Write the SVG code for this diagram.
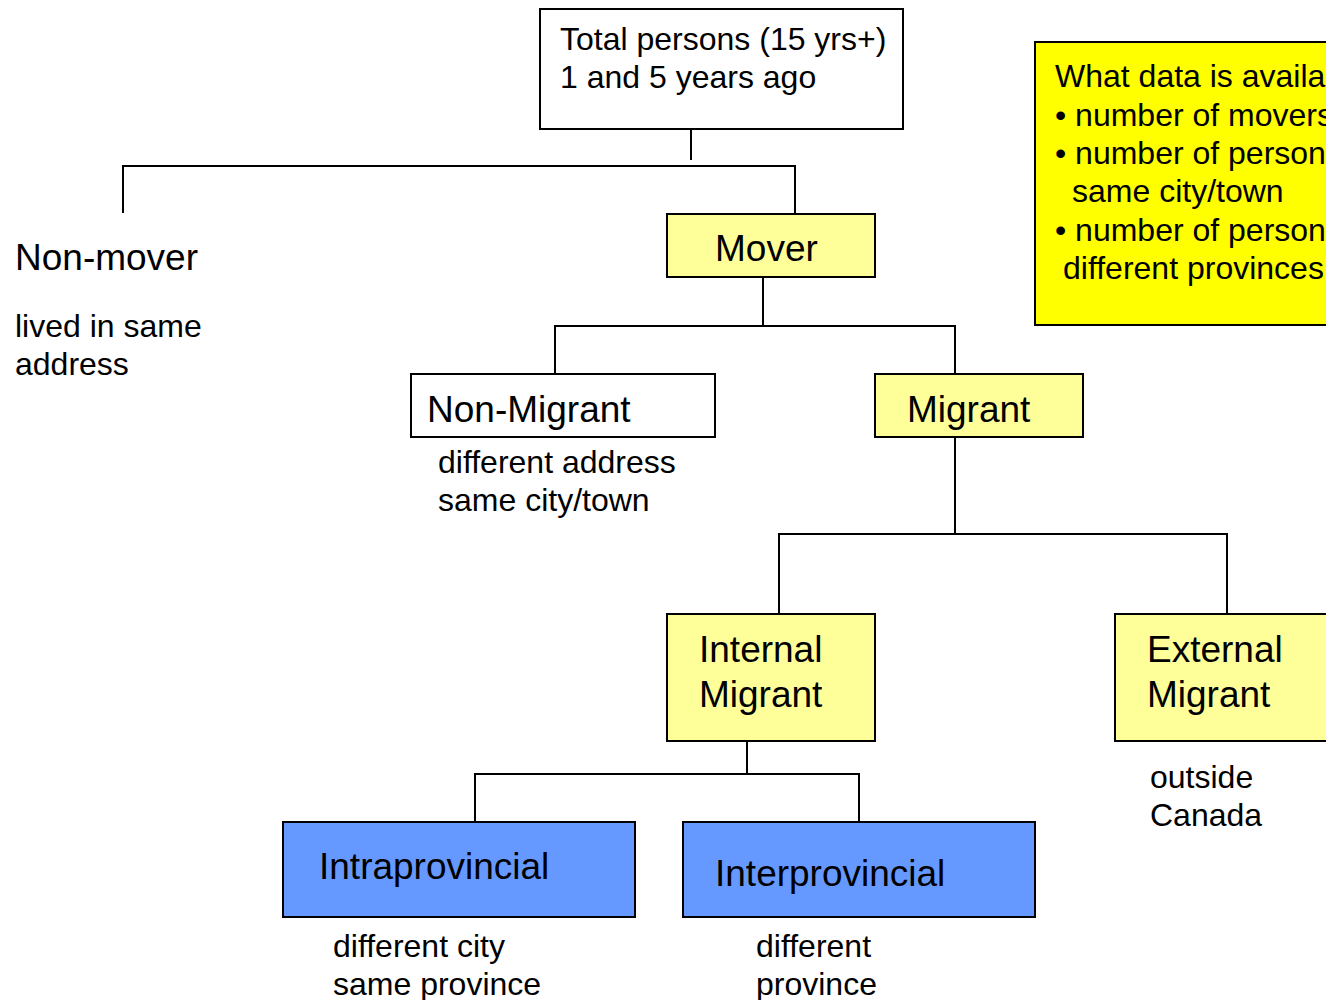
<svg xmlns="http://www.w3.org/2000/svg" width="1326" height="1000" viewBox="0 0 1326 1000">
<style>
text{font-family:"Liberation Sans",Arial,sans-serif;fill:#000}
.big{font-size:37px}
.sm{font-size:32px}
.box{stroke:#000;stroke-width:2}
.w{fill:#fff}
.y{fill:#ffff99}
.b{fill:#6699ff}
.note{fill:#ffff00}
#connectors path{fill:none;stroke:#000;stroke-width:2}
</style>
<rect width="1326" height="1000" fill="#fff"/>
<g id="connectors">
<path d="M691 129V160"/>
<path d="M123 213V166H795V213"/>
<path d="M763 277V326"/>
<path d="M555 374V326H955V374"/>
<path d="M955 437V534"/>
<path d="M779 614V534H1227V614"/>
<path d="M747 741V774"/>
<path d="M475 822V774H859V822"/>
</g>
<g id="total">
<rect class="box w" x="540" y="9" width="363" height="120"/>
<text class="sm" x="560" y="50">Total persons (15 yrs+)</text>
<text class="sm" x="560" y="88">1 and 5 years ago</text>
</g>
<g id="nonmover">
<text class="big" x="15" y="270">Non-mover</text>
<text class="sm" x="15" y="337">lived in same</text>
<text class="sm" x="15" y="375">address</text>
</g>
<g id="mover">
<rect class="box y" x="667" y="214" width="208" height="63"/>
<text class="big" x="715" y="261">Mover</text>
</g>
<g id="nonmigrant">
<rect class="box w" x="411" y="374" width="304" height="63"/>
<text class="big" x="427" y="422">Non-Migrant</text>
<text class="sm" x="438" y="473">different address</text>
<text class="sm" x="438" y="511">same city/town</text>
</g>
<g id="migrant">
<rect class="box y" x="875" y="374" width="208" height="63"/>
<text class="big" x="907" y="422">Migrant</text>
</g>
<g id="internal">
<rect class="box y" x="667" y="614" width="208" height="127"/>
<text class="big" x="699" y="662">Internal</text>
<text class="big" x="699" y="707">Migrant</text>
</g>
<g id="external">
<rect class="box y" x="1115" y="614" width="220" height="127"/>
<text class="big" x="1147" y="662">External</text>
<text class="big" x="1147" y="707">Migrant</text>
<text class="sm" x="1150" y="788">outside</text>
<text class="sm" x="1150" y="826">Canada</text>
</g>
<g id="intra">
<rect class="box b" x="283" y="822" width="352" height="95"/>
<text class="big" x="319" y="879">Intraprovincial</text>
<text class="sm" x="333" y="957">different city</text>
<text class="sm" x="333" y="995">same province</text>
</g>
<g id="inter">
<rect class="box b" x="683" y="822" width="352" height="95"/>
<text class="big" x="715" y="886">Interprovincial</text>
<text class="sm" x="756" y="957">different</text>
<text class="sm" x="756" y="995">province</text>
</g>
<g id="note">
<rect class="box note" x="1035" y="42" width="300" height="283"/>
<text class="sm" x="1055" y="87">What data is availab</text>
<text class="sm" x="1055" y="126">• number of movers</text>
<text class="sm" x="1055" y="164">• number of persons</text>
<text class="sm" x="1072" y="202">same city/town</text>
<text class="sm" x="1055" y="241">• number of persons</text>
<text class="sm" x="1063" y="279">different provinces</text>
</g>
</svg>
